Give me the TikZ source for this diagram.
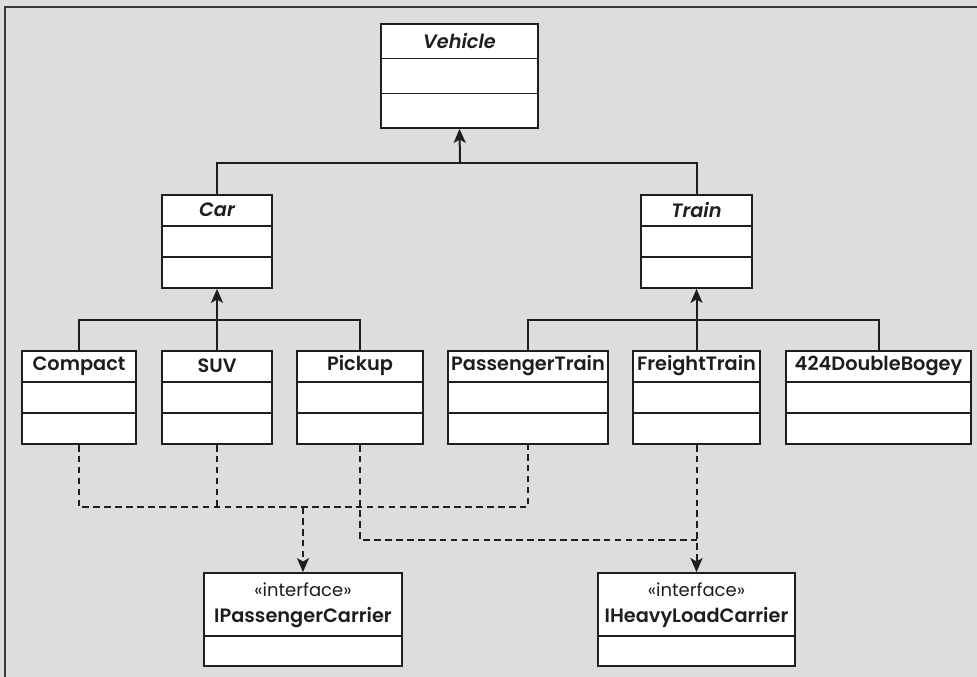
\documentclass[tikz,border=0pt]{standalone}
\usepackage{fontspec}
\setmainfont{Poppins}[BoldFont={Poppins SemiBold},BoldItalicFont={Poppins SemiBold Italic}]
\usetikzlibrary{arrows.meta,calc,fit}
\definecolor{bgc}{HTML}{DCDDDF}
\definecolor{framec}{HTML}{3A3A3A}
\definecolor{linec}{HTML}{1E1E1E}
\tikzset{
  cls/.style={draw=linec, line width=1.3pt, fill=white, inner sep=0pt},
  divl/.style={draw=linec, line width=1.2pt},
  ttl/.style={inner sep=0pt, font=\fontsize{14.5}{17}\selectfont\bfseries, text=linec},
  ittl/.style={inner sep=0pt, font=\fontsize{14.5}{17}\selectfont\bfseries\itshape, text=linec},
  ifttl/.style={inner sep=0pt, align=center, text=linec, font=\fontsize{14.5}{19.5}\selectfont},
  conn/.style={draw=linec, line width=1.5pt},
  inh/.style={conn, -{Stealth[length=10.5pt,width=9pt,inset=2.5pt]}},
  dsh/.style={conn, dash pattern=on 5pt off 3.2pt},
  real/.style={dsh, -{Stealth[length=10.5pt,width=9pt,inset=2.5pt]}}
}
\newcommand{\umlclass}[7]{%
  \node[cls, fit={(#2,#3) (#4,#5)}] (#1) {};
  \draw[divl] ($(#1.north west)!1/3!(#1.south west)$) -- ($(#1.north east)!1/3!(#1.south east)$);
  \draw[divl] ($(#1.north west)!2/3!(#1.south west)$) -- ($(#1.north east)!2/3!(#1.south east)$);
  \node[#7] (#1-t) at ($(#1.north)!1/6!(#1.south)$) {#6};
}
\newcommand{\umlintf}[6]{%
  \node[cls, fit={(#2,#3) (#4,#5)}] (#1) {};
  \draw[divl] ($(#1.north west)!0.677!(#1.south west)$) -- ($(#1.north east)!0.677!(#1.south east)$);
  \node[ifttl] (#1-t) at ($(#1.north)!0.345!(#1.south)$) {{\fontsize{13.5}{15}\selectfont «interface»}\\{\bfseries #6}};
}
\begin{document}
\begin{tikzpicture}[x=0.75pt,y=-0.75pt]
\useasboundingbox (0,0) rectangle (977,677);
\fill[bgc] (0,0) rectangle (977,677);
\draw[framec, line width=1.3pt] (5,677) -- (5,7) -- (977,7);

\umlclass{veh}{381}{24}{538}{128}{Vehicle}{ittl}
\umlclass{car}{162}{195}{272}{288}{Car}{ittl}
\umlclass{train}{641}{195}{752}{288}{Train}{ittl}
\umlclass{comp}{22}{351}{136}{444}{Compact}{ttl}
\umlclass{suv}{162}{351}{272}{444}{SUV}{ttl}
\umlclass{pick}{297}{351}{423}{444}{Pickup}{ttl}
\umlclass{pass}{448}{351}{608}{444}{PassengerTrain}{ttl}
\umlclass{freight}{633}{351}{760}{444}{FreightTrain}{ttl}
\umlclass{dbog}{786}{351}{971}{444}{424DoubleBogey}{ttl}
\umlintf{ipc}{204}{573}{402}{666}{IPassengerCarrier}
\umlintf{ihl}{598}{573}{795}{666}{IHeavyLoadCarrier}

\coordinate (vbus) at (460,163);
\coordinate (cbus) at (217,320);
\coordinate (tbus) at (697,320);
\coordinate (pbus) at (303,507);
\coordinate (hbus) at (697,540);

% inheritance
\draw[conn] (car.north) -- (car.north |- vbus) -- (train.north |- vbus) -- (train.north);
\draw[inh] (vbus) -- (veh.south);
\draw[conn] (comp.north) -- (comp.north |- cbus) -- (pick.north |- cbus) -- (pick.north);
\draw[inh] (suv.north) -- (car.south);
\draw[conn] (pass.north) -- (pass.north |- tbus) -- (dbog.north |- tbus) -- (dbog.north);
\draw[inh] (freight.north) -- (train.south);

% realization
\draw[dsh] (comp.south) -- (comp.south |- pbus) -- (pass.south |- pbus) -- (pass.south);
\draw[dsh] (suv.south) -- (suv.south |- pbus);
\draw[real] (ipc.north |- pbus) -- (ipc.north);
\draw[dsh] (pick.south) -- (pick.south |- hbus) -- (hbus);
\draw[real] (freight.south) -- (ihl.north);
\end{tikzpicture}
\end{document}
